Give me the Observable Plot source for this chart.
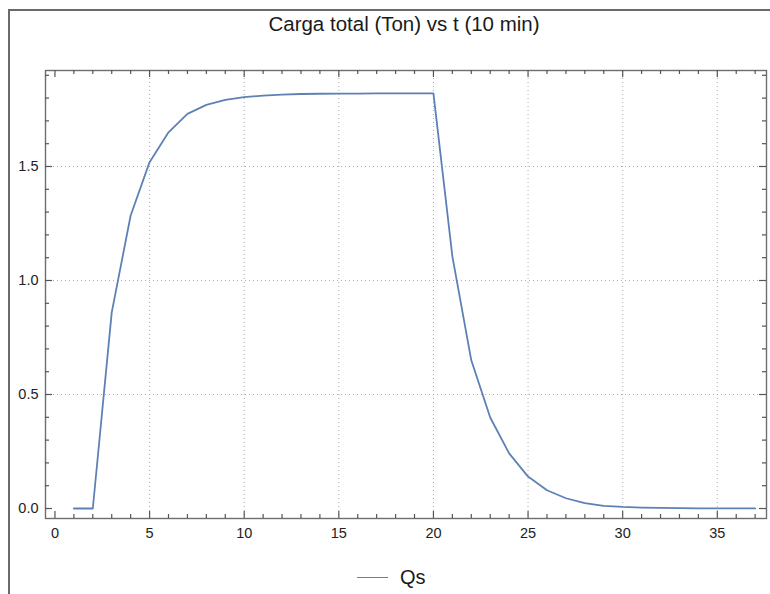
<!DOCTYPE html>
<html>
<head>
<meta charset="utf-8">
<script src="https://cdn.jsdelivr.net/npm/d3@7"></script>
<script src="https://cdn.jsdelivr.net/npm/@observablehq/plot@0.6"></script>
<style>
html, body { margin: 0; padding: 0; background: #fff; }
#wrap { position: relative; width: 770px; height: 594px; overflow: hidden; font-family: "Liberation Sans", Arial, sans-serif; }
#border { position: absolute; left: 8px; top: 9px; width: 800px; height: 700px; border: 2px solid #6a6a6a; box-sizing: border-box; }
#title { position: absolute; top: 12px; left: 0; width: 808px; text-align: center; font-size: 20.5px; color: #1a1a1a; white-space: nowrap; }
#legend { position: absolute; top: 566px; left: 357px; display: flex; align-items: center; font-size: 20px; color: #1a1a1a; }
#legend .sw { width: 31px; height: 0; border-top: 1.8px solid #5e81b5; margin-right: 12px; }
#chart { position: absolute; left: 0; top: 0; }
</style>
</head>
<body>
<div id="wrap">
  <div id="border"></div>
  <div id="title">Carga total (Ton) vs t (10 min)</div>
  <div id="chart"></div>
  <div id="legend"><div class="sw"></div><span>Qs</span></div>
</div>
<script>
const t = [1,2,3,4,5,6,7,8,9,10,11,12,13,14,15,16,17,18,19,20,21,22,23,24,25,26,27,28,29,30,31,32,33,34,35,36,37];
const Qs = [0,0,0.86,1.285,1.519,1.65,1.731,1.77,1.792,1.804,1.811,1.815,1.818,1.819,1.82,1.82,1.821,1.821,1.821,1.821,1.106,0.65,0.399,0.242,0.14,0.08,0.045,0.024,0.012,0.007,0.004,0.0025,0.0015,0.001,0.0006,0.0004,0.0003];

const xMajor = [0,5,10,15,20,25,30,35];
const xMinor = [1,2,3,4,6,7,8,9,11,12,13,14,16,17,18,19,21,22,23,24,26,27,28,29,31,32,33,34,36,37];
const xGrid = [5,10,15,20,25,30,35];
const yMajor = [0,0.5,1.0,1.5];
const yMinor = [0.1,0.2,0.3,0.4,0.6,0.7,0.8,0.9,1.1,1.2,1.3,1.4,1.6,1.7,1.8,1.9];
const yGrid = [0.5,1.0,1.5];

const data = t.map((d, i) => ({t: d, q: Qs[i]}));

const W = 770, H = 550, mL = 45, mR = 4, mT = 70, mB = 32;
const pw = W - mL - mR, ph = H - mT - mB;
const majorLen = 7, minorLen = 4;
const frameColor = "#6e6e6e";
const tickStyle = {stroke: "#555", strokeWidth: 1.2};

const chart = Plot.plot({
  width: W,
  height: H,
  marginLeft: mL,
  marginRight: mR,
  marginTop: mT,
  marginBottom: mB,
  style: {fontFamily: "Liberation Sans, Arial, sans-serif", fontSize: "14.5px", color: "#222", background: "transparent", overflow: "visible"},
  x: {domain: [-0.5, 37.6], axis: null},
  y: {domain: [-0.0438, 1.921], axis: null},
  marks: [
    Plot.gridX(xGrid, {stroke: "#aaa", strokeOpacity: 1, strokeDasharray: "1,3"}),
    Plot.gridY(yGrid, {stroke: "#aaa", strokeOpacity: 1, strokeDasharray: "1,3"}),
    Plot.line(data, {x: "t", y: "q", stroke: "#5e81b5", strokeWidth: 1.8}),
    Plot.frame({stroke: frameColor, strokeWidth: 1.4}),
    Plot.tickX(xMajor, {x: d => d, insetTop: ph - majorLen, ...tickStyle}),
    Plot.tickX(xMinor, {x: d => d, insetTop: ph - minorLen, ...tickStyle}),
    Plot.tickX(xMajor, {x: d => d, insetBottom: ph - majorLen, ...tickStyle}),
    Plot.tickX(xMinor, {x: d => d, insetBottom: ph - minorLen, ...tickStyle}),
    Plot.tickY(yMajor, {y: d => d, insetRight: pw - majorLen, ...tickStyle}),
    Plot.tickY(yMinor, {y: d => d, insetRight: pw - minorLen, ...tickStyle}),
    Plot.tickY(yMajor, {y: d => d, insetLeft: pw - majorLen, ...tickStyle}),
    Plot.tickY(yMinor, {y: d => d, insetLeft: pw - minorLen, ...tickStyle}),
    Plot.axisX(xMajor, {anchor: "bottom", tickSize: 0, tickPadding: 9, tickFormat: d => String(d), label: null, fill: "#222"}),
    Plot.axisY(yMajor, {anchor: "left", tickSize: 0, tickPadding: 7, tickFormat: d => d.toFixed(1), label: null, fill: "#222"})
  ]
});
document.getElementById("chart").appendChild(chart);
</script>
</body>
</html>
